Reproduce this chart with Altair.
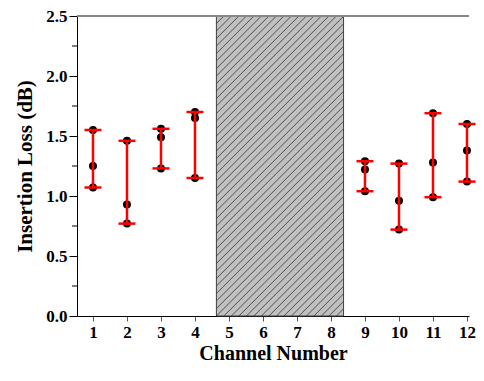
import altair as alt
import pandas as pd

# ---- data ----
channels = [1, 2, 3, 4, 9, 10, 11, 12]
loss_top = [1.55, 1.46, 1.56, 1.70, 1.29, 1.27, 1.69, 1.60]
loss_mid = [1.25, 0.93, 1.49, 1.65, 1.22, 0.96, 1.28, 1.38]
loss_low = [1.07, 0.77, 1.23, 1.15, 1.04, 0.72, 0.99, 1.12]
x_ticks = list(range(1, 13))
y_ticks = [0.0, 0.5, 1.0, 1.5, 2.0, 2.5]
y_minor = [0.25, 0.75, 1.25, 1.75, 2.25]
blocked = [4.63, 8.37]  # hatched (unused channels) band

W, H = 392, 300
X_DOMAIN = [0.53, 0.53 + W / 34.0]
Y_DOMAIN = [0.0, 2.5]
FONT = "Liberation Serif"

points = pd.DataFrame({
    "channel": channels * 3,
    "loss": loss_top + loss_mid + loss_low,
})
bars = pd.DataFrame({
    "channel": channels,
    "lo": [min(a, b, c) for a, b, c in zip(loss_top, loss_mid, loss_low)],
    "hi": [max(a, b, c) for a, b, c in zip(loss_top, loss_mid, loss_low)],
})
band = pd.DataFrame({"x0": [blocked[0]], "x1": [blocked[1]],
                     "y0": [Y_DOMAIN[0]], "y1": [Y_DOMAIN[1]]})

# hatch lines (45 degree in screen space) clipped to the band
px_x = W / (X_DOMAIN[1] - X_DOMAIN[0])
px_y = H / (Y_DOMAIN[1] - Y_DOMAIN[0])
k = px_y / px_x
step = 7.5 / px_x
rows = []
b = blocked[0] - k * Y_DOMAIN[1]
while b < blocked[1]:
    y0 = max(Y_DOMAIN[0], (blocked[0] - b) / k)
    y1 = min(Y_DOMAIN[1], (blocked[1] - b) / k)
    if y1 > y0:
        rows.append({"x": b + k * y0, "y": y0, "x2": b + k * y1, "y2": y1})
    b += step
hatch = pd.DataFrame(rows)
minor = pd.DataFrame({"v": y_minor})

xs = alt.Scale(domain=X_DOMAIN, nice=False, zero=False)
ys = alt.Scale(domain=Y_DOMAIN, nice=False, zero=False)
xaxis = alt.Axis(values=x_ticks, format="d", tickSize=5, labelPadding=3,
                 titlePadding=3, tickColor="#555555", title="Channel Number",
                 titleFontSize=20)
yaxis = alt.Axis(values=y_ticks, format=".1f", tickSize=8, labelPadding=2,
                 titlePadding=10, title="Insertion Loss (dB)")


def X(f):
    return alt.X(f, scale=xs, axis=xaxis, title="Channel Number")


def Y(f):
    return alt.Y(f, scale=ys, axis=yaxis, title="Insertion Loss (dB)")


band_layer = alt.Chart(band).mark_rect(
    fill="#c0c0c0", stroke="#404040", strokeWidth=1
).encode(x=X("x0:Q"), x2="x1:Q", y=Y("y0:Q"), y2="y1:Q")

hatch_layer = alt.Chart(hatch).mark_rule(color="#333333", strokeWidth=0.8).encode(
    x=X("x:Q"), x2="x2:Q", y=Y("y:Q"), y2="y2:Q",
)

top_line = alt.Chart(minor).mark_rule(color="#888888", strokeWidth=1.5).encode(
    y=alt.datum(2.5, scale=ys, axis=yaxis, title="Insertion Loss (dB)")
)

minor_ticks = alt.Chart(minor).mark_rule(color="black", strokeWidth=1).encode(
    y=Y("v:Q"), x=alt.value(-5), x2=alt.value(0),
)

dots = alt.Chart(points).mark_circle(color="black", opacity=1, size=64).encode(
    x=X("channel:Q"), y=Y("loss:Q"),
)

vbars = alt.Chart(bars).mark_rule(color="#ff0000", strokeWidth=2.5).encode(
    x=X("channel:Q"), y=Y("lo:Q"), y2="hi:Q",
)
caps_hi = alt.Chart(bars).mark_tick(color="#ff0000", orient="horizontal", size=17,
                                    thickness=2.5, opacity=1).encode(
    x=X("channel:Q"), y=Y("hi:Q"),
)
caps_lo = alt.Chart(bars).mark_tick(color="#ff0000", orient="horizontal", size=17,
                                    thickness=2.5, opacity=1).encode(
    x=X("channel:Q"), y=Y("lo:Q"),
)

chart = alt.layer(
    band_layer, hatch_layer, top_line, minor_ticks, dots, vbars, caps_hi, caps_lo
).properties(
    width=W, height=H,
    autosize=alt.AutoSizeParams(type="none"),
    padding={"left": 69, "top": 8, "right": 7, "bottom": 52},
).configure_view(stroke=None).configure_axis(
    labelFont=FONT, titleFont=FONT, labelFontWeight="bold", titleFontWeight="bold",
    labelFontSize=17, titleFontSize=21, labelColor="black", titleColor="black",
    grid=False, domainColor="black", tickColor="black", domainWidth=1,
    labelFlush=False,
)

chart.save("out.html", embed_options={"renderer": "svg", "actions": False})
